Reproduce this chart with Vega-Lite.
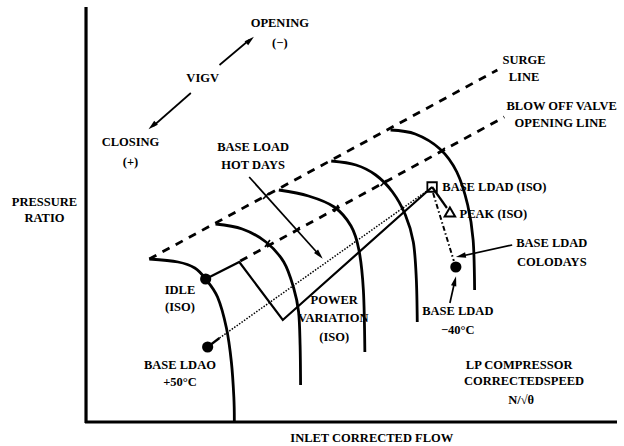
{
  "$schema": "https://vega.github.io/schema/vega-lite/v6.json",
  "width": 624,
  "height": 446,
  "padding": 0,
  "autosize": {"type": "fit", "contains": "padding"},
  "background": "white",
  "config": {"view": {"stroke": null}},
  "datasets": {
    "paths": [
      {"path": "axisL", "kind": "axis", "i": 0, "x": 87, "y": 7},
      {"path": "axisL", "kind": "axis", "i": 1, "x": 87, "y": 423},
      {"path": "axisB", "kind": "axis", "i": 0, "x": 86, "y": 422},
      {"path": "axisB", "kind": "axis", "i": 1, "x": 624, "y": 422},

      {"path": "c1", "kind": "curve", "i": 0, "x": 151, "y": 259},
      {"path": "c1", "kind": "curve", "i": 1, "x": 180, "y": 262},
      {"path": "c1", "kind": "curve", "i": 2, "x": 197, "y": 268},
      {"path": "c1", "kind": "curve", "i": 3, "x": 208, "y": 279},
      {"path": "c1", "kind": "curve", "i": 4, "x": 220, "y": 297},
      {"path": "c1", "kind": "curve", "i": 5, "x": 229, "y": 328},
      {"path": "c1", "kind": "curve", "i": 6, "x": 234, "y": 362},
      {"path": "c1", "kind": "curve", "i": 7, "x": 236.5, "y": 397},
      {"path": "c1", "kind": "curve", "i": 8, "x": 237, "y": 421},

      {"path": "c2", "kind": "curve", "i": 0, "x": 218, "y": 224},
      {"path": "c2", "kind": "curve", "i": 1, "x": 245, "y": 229},
      {"path": "c2", "kind": "curve", "i": 2, "x": 269, "y": 242},
      {"path": "c2", "kind": "curve", "i": 3, "x": 287, "y": 262},
      {"path": "c2", "kind": "curve", "i": 4, "x": 297, "y": 288},
      {"path": "c2", "kind": "curve", "i": 5, "x": 302, "y": 312},
      {"path": "c2", "kind": "curve", "i": 6, "x": 303.5, "y": 345},
      {"path": "c2", "kind": "curve", "i": 7, "x": 304, "y": 385},

      {"path": "c3", "kind": "curve", "i": 0, "x": 282, "y": 190},
      {"path": "c3", "kind": "curve", "i": 1, "x": 312, "y": 196},
      {"path": "c3", "kind": "curve", "i": 2, "x": 338, "y": 207},
      {"path": "c3", "kind": "curve", "i": 3, "x": 355, "y": 226},
      {"path": "c3", "kind": "curve", "i": 4, "x": 363, "y": 250},
      {"path": "c3", "kind": "curve", "i": 5, "x": 367.5, "y": 290},
      {"path": "c3", "kind": "curve", "i": 6, "x": 369, "y": 352},

      {"path": "c4", "kind": "curve", "i": 0, "x": 335, "y": 161},
      {"path": "c4", "kind": "curve", "i": 1, "x": 360, "y": 165},
      {"path": "c4", "kind": "curve", "i": 2, "x": 380, "y": 175},
      {"path": "c4", "kind": "curve", "i": 3, "x": 397, "y": 192},
      {"path": "c4", "kind": "curve", "i": 4, "x": 410, "y": 215},
      {"path": "c4", "kind": "curve", "i": 5, "x": 418, "y": 242},
      {"path": "c4", "kind": "curve", "i": 6, "x": 421, "y": 278},
      {"path": "c4", "kind": "curve", "i": 7, "x": 422, "y": 322},

      {"path": "c5", "kind": "curve", "i": 0, "x": 395, "y": 130},
      {"path": "c5", "kind": "curve", "i": 1, "x": 420, "y": 134},
      {"path": "c5", "kind": "curve", "i": 2, "x": 445, "y": 149},
      {"path": "c5", "kind": "curve", "i": 3, "x": 462, "y": 172},
      {"path": "c5", "kind": "curve", "i": 4, "x": 473, "y": 205},
      {"path": "c5", "kind": "curve", "i": 5, "x": 478.5, "y": 240},
      {"path": "c5", "kind": "curve", "i": 6, "x": 480, "y": 290},

      {"path": "surge", "kind": "dash", "i": 0, "x": 151, "y": 259},
      {"path": "surge", "kind": "dash", "i": 1, "x": 503, "y": 70},
      {"path": "bov", "kind": "dash", "i": 0, "x": 243, "y": 261},
      {"path": "bov", "kind": "dash", "i": 1, "x": 510, "y": 117},

      {"path": "power", "kind": "solid", "i": 0, "x": 208, "y": 279},
      {"path": "power", "kind": "solid", "i": 1, "x": 242, "y": 262},
      {"path": "power", "kind": "solid", "i": 2, "x": 286, "y": 320},
      {"path": "power", "kind": "solid", "i": 3, "x": 437, "y": 187},
      {"path": "peak", "kind": "solid", "i": 0, "x": 437, "y": 187},
      {"path": "peak", "kind": "solid", "i": 1, "x": 452, "y": 208},
      {"path": "hot50", "kind": "solid", "i": 0, "x": 210, "y": 347},
      {"path": "hot50", "kind": "solid", "i": 1, "x": 222, "y": 338},

      {"path": "t1", "kind": "thin", "i": 0, "x": 268, "y": 247},
      {"path": "t1", "kind": "thin", "i": 1, "x": 273, "y": 240},
      {"path": "t2", "kind": "thin", "i": 0, "x": 338, "y": 212},
      {"path": "t2", "kind": "thin", "i": 1, "x": 342, "y": 205},
      {"path": "t3", "kind": "thin", "i": 0, "x": 385, "y": 186},
      {"path": "t3", "kind": "thin", "i": 1, "x": 391, "y": 180},
      {"path": "t4", "kind": "thin", "i": 0, "x": 443, "y": 153},
      {"path": "t4", "kind": "thin", "i": 1, "x": 450, "y": 148},
      {"path": "t5", "kind": "thin", "i": 0, "x": 266, "y": 199},
      {"path": "t5", "kind": "thin", "i": 1, "x": 272, "y": 193},
      {"path": "t6", "kind": "thin", "i": 0, "x": 297, "y": 233},
      {"path": "t6", "kind": "thin", "i": 1, "x": 303, "y": 227},

      {"path": "arrHot", "kind": "thin", "i": 0, "x": 252, "y": 177},
      {"path": "arrHot", "kind": "thin", "i": 1, "x": 322, "y": 254},
      {"path": "arrCold", "kind": "thin", "i": 0, "x": 518, "y": 245},
      {"path": "arrCold", "kind": "thin", "i": 1, "x": 467, "y": 256},
      {"path": "arr40", "kind": "thin", "i": 0, "x": 455, "y": 303},
      {"path": "arr40", "kind": "thin", "i": 1, "x": 460, "y": 281},
      {"path": "vigvUp", "kind": "thin", "i": 0, "x": 222, "y": 65},
      {"path": "vigvUp", "kind": "thin", "i": 1, "x": 252, "y": 40},
      {"path": "vigvDn", "kind": "thin", "i": 0, "x": 193, "y": 93},
      {"path": "vigvDn", "kind": "thin", "i": 1, "x": 155, "y": 126},

      {"path": "dot", "kind": "dotted", "i": 0, "x": 222, "y": 338},
      {"path": "dot", "kind": "dotted", "i": 1, "x": 436, "y": 188},

      {"path": "dd", "kind": "dashdot", "i": 0, "x": 438, "y": 193},
      {"path": "dd", "kind": "dashdot", "i": 1, "x": 459, "y": 261}
    ],
    "markers": [
      {"kind": "dot", "x": 208, "y": 279},
      {"kind": "dot", "x": 210, "y": 347},
      {"kind": "dot", "x": 461, "y": 267},
      {"kind": "square", "x": 437, "y": 187},
      {"kind": "triangle", "x": 455, "y": 212}
    ],
    "heads": [
      {"name": "vigvUp", "x": 253, "y": 40},
      {"name": "vigvDn", "x": 154, "y": 126},
      {"name": "hot", "x": 323, "y": 255},
      {"name": "cold", "x": 466, "y": 256},
      {"name": "m40", "x": 460, "y": 281}
    ],
    "labels": [
      {"text": "OPENING", "x": 283, "y": 23},
      {"text": "(−)", "x": 283, "y": 43},
      {"text": "VIGV", "x": 205, "y": 78},
      {"text": "CLOSING", "x": 132, "y": 142},
      {"text": "(+)", "x": 132, "y": 162},
      {"text": "PRESSURE", "x": 45, "y": 202},
      {"text": "RATIO", "x": 45, "y": 218},
      {"text": "SURGE", "x": 530, "y": 60},
      {"text": "LINE", "x": 530, "y": 77},
      {"text": "BLOW OFF VALVE", "x": 568, "y": 106},
      {"text": "OPENING LINE", "x": 567, "y": 123},
      {"text": "BASE LOAD", "x": 256, "y": 147},
      {"text": "HOT DAYS", "x": 256, "y": 165},
      {"text": "BASE LDAD (ISO)", "x": 500, "y": 187},
      {"text": "PEAK (ISO)", "x": 499, "y": 214},
      {"text": "IDLE", "x": 182, "y": 290},
      {"text": "(ISO)", "x": 182, "y": 307},
      {"text": "BASE LDAD", "x": 558, "y": 243},
      {"text": "COLODAYS", "x": 558, "y": 262},
      {"text": "POWER", "x": 338, "y": 300},
      {"text": "VARIATION", "x": 337, "y": 318},
      {"text": "(ISO)", "x": 338, "y": 337},
      {"text": "BASE LDAD", "x": 463, "y": 311},
      {"text": "−40°C", "x": 463, "y": 330},
      {"text": "BASE LDAO", "x": 182, "y": 365},
      {"text": "+50°C", "x": 182, "y": 382},
      {"text": "LP COMPRESSOR", "x": 525, "y": 365},
      {"text": "CORRECTEDSPEED", "x": 530, "y": 381},
      {"text": "N/√θ", "x": 527, "y": 400},
      {"text": "INLET CORRECTED FLOW", "x": 376, "y": 438}
    ]
  },
  "encoding": {
    "x": {"field": "x", "type": "quantitative", "axis": null,
          "scale": {"domain": [0, 624], "nice": false, "zero": false}},
    "y": {"field": "y", "type": "quantitative", "axis": null,
          "scale": {"domain": [0, 446], "nice": false, "zero": false, "reverse": true}}
  },
  "layer": [
    {
      "data": {"name": "paths"},
      "transform": [{"filter": "datum.kind == 'axis'"}],
      "mark": {"type": "line", "color": "black", "strokeWidth": 3.2, "strokeCap": "butt"},
      "encoding": {"detail": {"field": "path"}, "order": {"field": "i"}}
    },
    {
      "data": {"name": "paths"},
      "transform": [{"filter": "datum.kind == 'curve'"}],
      "mark": {"type": "line", "color": "black", "strokeWidth": 2.8, "interpolate": "cardinal"},
      "encoding": {"detail": {"field": "path"}, "order": {"field": "i"}}
    },
    {
      "data": {"name": "paths"},
      "transform": [{"filter": "datum.kind == 'dash'"}],
      "mark": {"type": "line", "color": "black", "strokeWidth": 2.8, "strokeDash": [8, 7]},
      "encoding": {"detail": {"field": "path"}, "order": {"field": "i"}}
    },
    {
      "data": {"name": "paths"},
      "transform": [{"filter": "datum.kind == 'solid'"}],
      "mark": {"type": "line", "color": "black", "strokeWidth": 2.2},
      "encoding": {"detail": {"field": "path"}, "order": {"field": "i"}}
    },
    {
      "data": {"name": "paths"},
      "transform": [{"filter": "datum.kind == 'thin'"}],
      "mark": {"type": "line", "color": "black", "strokeWidth": 1.7},
      "encoding": {"detail": {"field": "path"}, "order": {"field": "i"}}
    },
    {
      "data": {"name": "paths"},
      "transform": [{"filter": "datum.kind == 'dotted'"}],
      "mark": {"type": "line", "color": "black", "strokeWidth": 1.5, "strokeDash": [1.5, 1.5]},
      "encoding": {"detail": {"field": "path"}, "order": {"field": "i"}}
    },
    {
      "data": {"name": "paths"},
      "transform": [{"filter": "datum.kind == 'dashdot'"}],
      "mark": {"type": "line", "color": "black", "strokeWidth": 2, "strokeDash": [5, 2.5, 1.5, 2.5]},
      "encoding": {"detail": {"field": "path"}, "order": {"field": "i"}}
    },
    {
      "data": {"name": "markers"},
      "transform": [{"filter": "datum.kind == 'dot'"}],
      "mark": {"type": "point", "shape": "circle", "filled": true, "color": "black", "size": 125, "opacity": 1}
    },
    {
      "data": {"name": "markers"},
      "transform": [{"filter": "datum.kind == 'square'"}],
      "mark": {"type": "point", "shape": "square", "filled": false, "color": "black", "size": 90, "strokeWidth": 1.8, "opacity": 1}
    },
    {
      "data": {"name": "markers"},
      "transform": [{"filter": "datum.kind == 'triangle'"}],
      "mark": {"type": "point", "shape": "triangle-up", "filled": false, "color": "black", "size": 110, "strokeWidth": 2, "opacity": 1}
    },
    {
      "data": {"name": "heads"},
      "transform": [{"filter": "datum.name == 'vigvUp'"}],
      "mark": {"type": "point", "shape": "M0,-1L0.55,1L-0.55,1Z", "filled": true, "color": "black", "size": 100, "angle": 49, "opacity": 1}
    },
    {
      "data": {"name": "heads"},
      "transform": [{"filter": "datum.name == 'vigvDn'"}],
      "mark": {"type": "point", "shape": "M0,-1L0.55,1L-0.55,1Z", "filled": true, "color": "black", "size": 100, "angle": 229, "opacity": 1}
    },
    {
      "data": {"name": "heads"},
      "transform": [{"filter": "datum.name == 'hot'"}],
      "mark": {"type": "point", "shape": "M0,-1L0.55,1L-0.55,1Z", "filled": true, "color": "black", "size": 100, "angle": 138, "opacity": 1}
    },
    {
      "data": {"name": "heads"},
      "transform": [{"filter": "datum.name == 'cold'"}],
      "mark": {"type": "point", "shape": "M0,-1L0.55,1L-0.55,1Z", "filled": true, "color": "black", "size": 100, "angle": 258, "opacity": 1}
    },
    {
      "data": {"name": "heads"},
      "transform": [{"filter": "datum.name == 'm40'"}],
      "mark": {"type": "point", "shape": "M0,-1L0.55,1L-0.55,1Z", "filled": true, "color": "black", "size": 100, "angle": 14, "opacity": 1}
    },
    {
      "data": {"name": "labels"},
      "mark": {"type": "text", "font": "Liberation Serif", "fontWeight": "bold", "fontSize": 12.5, "color": "black", "align": "center", "baseline": "middle"},
      "encoding": {"text": {"field": "text"}}
    }
  ]
}
